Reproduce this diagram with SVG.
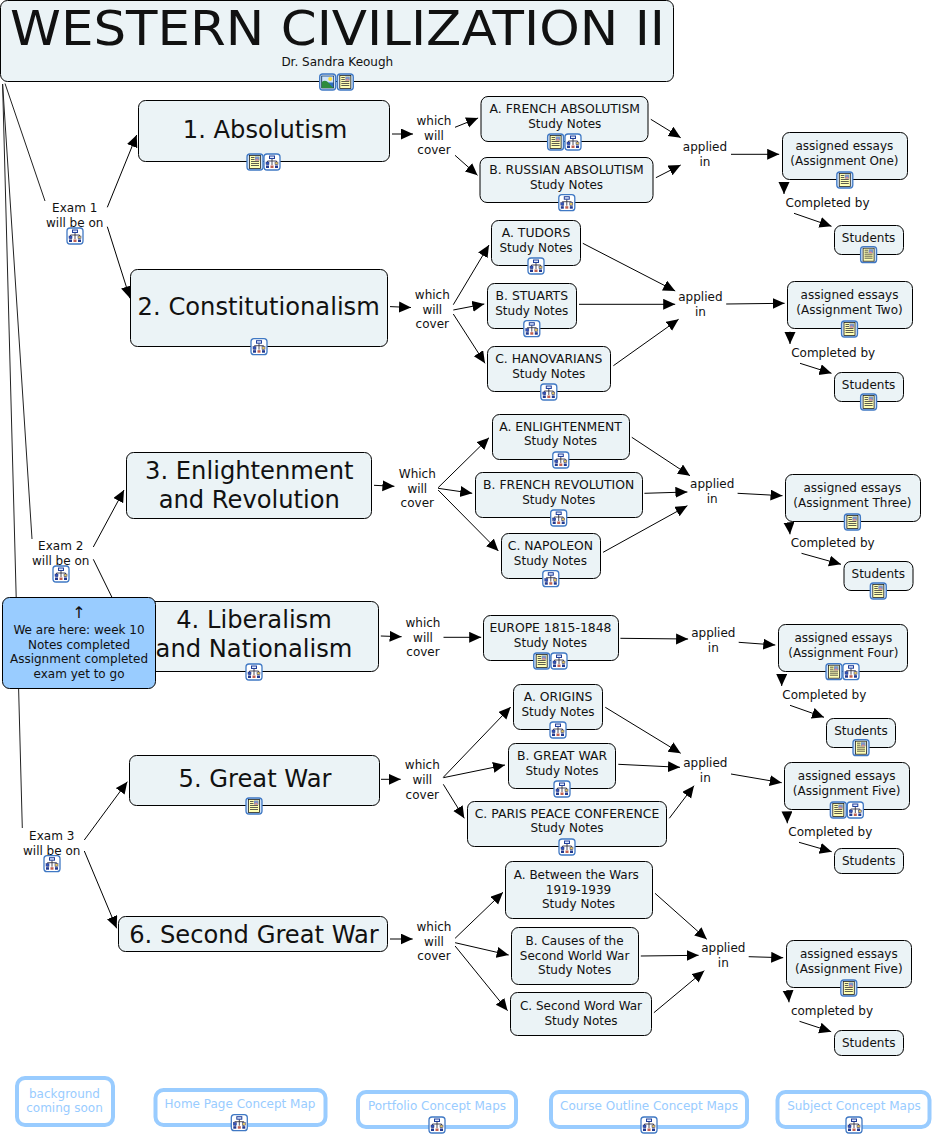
<svg xmlns="http://www.w3.org/2000/svg" width="933" height="1137" viewBox="0 0 933 1137">
<style>
text{font-family:"DejaVu Sans",Verdana,sans-serif;font-size:12px;fill:#111;text-anchor:middle}
.n{fill:#ebf3f6;stroke:#000;stroke-width:1}
text.c{font-size:12.4px}
text.big{font-size:24.2px}
text.title{font-size:48px}
text.up{font-size:16px}
.blue{fill:#99ccff;stroke:#000;stroke-width:1}
.link{fill:#fff;stroke:#99ccff;stroke-width:4}
text.lt{fill:#99ccff}
#connectors line{stroke:#000;stroke-width:1;marker-end:url(#ah)}
#connectors line.p{marker-end:none;stroke:#222}
.fr{stroke:#3f78c4;stroke-width:1.3}
</style>
<defs>
<marker id="ah" markerUnits="userSpaceOnUse" markerWidth="13" markerHeight="12" refX="12" refY="5.500" orient="auto"><path d="M0,0L12,5.500L0,11z" fill="#000"/></marker>
<g id="map"><rect x="-8" y="-8" width="16" height="16" rx="3" fill="#fff" class="fr"/><path d="M0,-3.500V-1M-4.500,0V-1H4.500V0M0,-1V3M-4,2V3M4,2V3" fill="none" stroke="#223" stroke-width=".8"/><rect x="-2.500" y="-6" width="5" height="2.500" fill="#dfe9ff" stroke="#22409a"/><rect x="-6" y="0" width="3" height="2.500" fill="#3355bb" stroke="#22307a" stroke-width=".5"/><rect x="3" y="0" width="3" height="2.500" fill="#e8c860" stroke="#22307a" stroke-width=".5"/><rect x="-6" y="3.500" width="3" height="2.500" fill="#223a90"/><rect x="-1.500" y="3.500" width="3" height="2.500" fill="#c06050"/><rect x="3" y="3.500" width="3" height="2.500" fill="#223a90"/></g>
<g id="note"><rect x="-8" y="-8" width="16" height="16" rx="3" fill="#cfe2f8" class="fr"/><rect x="-5.500" y="-6.500" width="11" height="13" fill="#ffffb4" stroke="#222" stroke-width=".8"/><path d="M-4,-4.500H-.5M-4,-2.500H-.5M-4,-.5H4M-4,1.500H4M-4,3.500H4" stroke="#333" stroke-width=".8"/><rect x="0" y="-5.500" width="4.500" height="4" fill="#7a94c8"/><path d="M0,-1.500L2,-3.500L4.500,-1.500z" fill="#d88"/></g>
<g id="img"><rect x="-8" y="-8" width="16" height="16" rx="3" fill="#cfe2f8" class="fr"/><rect x="-6" y="-6" width="12" height="12" fill="#2f6fc0" stroke="#123" stroke-width=".6"/><rect x="-5.500" y="-5.500" width="11" height="6" fill="#cfe4f8"/><circle cx="2.500" cy="-3" r="2" fill="#ffe040"/><path d="M-6,6V0Q-2,-3 1,1T6,6z" fill="#2e8b3c"/></g>
</defs>
<rect width="933" height="1137" fill="#fff"/>
<g id="connectors">
<line class="p" x1="5" y1="83.500" x2="45" y2="201"/>
<line class="p" x1="2.600" y1="84" x2="32" y2="539"/>
<line class="p" x1="2.600" y1="84" x2="22.300" y2="828"/>
<line x1="107.300" y1="207.300" x2="136.700" y2="135"/>
<line x1="107.300" y1="226.700" x2="130" y2="298.300"/>
<line x1="93.300" y1="547" x2="124" y2="490"/>
<line x1="93.300" y1="559.300" x2="128" y2="630"/>
<line x1="84.300" y1="840" x2="127.300" y2="781.700"/>
<line x1="84.300" y1="851" x2="116.700" y2="928.300"/>
<line x1="392" y1="134" x2="413" y2="134"/>
<line x1="455" y1="127.300" x2="478.100" y2="118"/>
<line x1="455" y1="155.300" x2="477.500" y2="175.300"/>
<line x1="650.800" y1="119.300" x2="680.700" y2="137.700"/>
<line x1="655.900" y1="177.700" x2="680.700" y2="165"/>
<line x1="731" y1="154.300" x2="779.200" y2="154.300"/>
<line x1="784" y1="183" x2="784" y2="194"/>
<line x1="794" y1="213.300" x2="831.500" y2="226.300"/>
<line x1="390" y1="306.600" x2="411" y2="307.500"/>
<line x1="453.300" y1="304.700" x2="489" y2="245"/>
<line x1="453.300" y1="310" x2="484.300" y2="304"/>
<line x1="453.300" y1="314" x2="485" y2="363.300"/>
<line x1="582.800" y1="243.300" x2="675.200" y2="291"/>
<line x1="579" y1="304.300" x2="675.200" y2="304.300"/>
<line x1="613.400" y1="365.700" x2="678.600" y2="319.300"/>
<line x1="726.200" y1="304" x2="784.600" y2="303.300"/>
<line x1="790" y1="331.700" x2="790" y2="344"/>
<line x1="800" y1="363.300" x2="831.500" y2="373.300"/>
<line x1="374" y1="485.300" x2="394.400" y2="486.300"/>
<line x1="438.100" y1="487.700" x2="489" y2="437.700"/>
<line x1="438.100" y1="488.300" x2="472.200" y2="493.300"/>
<line x1="438.100" y1="490" x2="498.400" y2="551"/>
<line x1="631.800" y1="437.300" x2="690" y2="475.700"/>
<line x1="644.400" y1="493.300" x2="687.400" y2="492"/>
<line x1="603.100" y1="552.300" x2="687.400" y2="505.700"/>
<line x1="737.600" y1="493.300" x2="782.500" y2="495.700"/>
<line x1="789" y1="523" x2="790" y2="534.300"/>
<line x1="801.500" y1="553.300" x2="841" y2="564.300"/>
<line x1="380.800" y1="636" x2="401.600" y2="636.700"/>
<line x1="443.500" y1="637.300" x2="481.200" y2="637.300"/>
<line x1="620.400" y1="638.300" x2="688.100" y2="639"/>
<line x1="738.700" y1="642.300" x2="775.300" y2="645"/>
<line x1="781.700" y1="675" x2="781.700" y2="686"/>
<line x1="790" y1="705.300" x2="824" y2="717.300"/>
<line x1="381" y1="779.300" x2="400.700" y2="779.300"/>
<line x1="443.300" y1="777.300" x2="510.700" y2="707"/>
<line x1="443.300" y1="777.700" x2="505" y2="765"/>
<line x1="443.300" y1="784.300" x2="464.300" y2="818.300"/>
<line x1="605.300" y1="707.300" x2="680.700" y2="753.300"/>
<line x1="618.300" y1="764.300" x2="680" y2="767.300"/>
<line x1="669.300" y1="818.300" x2="694" y2="785.700"/>
<line x1="731" y1="774" x2="781.700" y2="782.700"/>
<line x1="787" y1="812" x2="787.300" y2="823.300"/>
<line x1="799" y1="842.300" x2="831.700" y2="851.700"/>
<line x1="390" y1="939" x2="412.700" y2="939"/>
<line x1="455.100" y1="938.300" x2="503" y2="892.300"/>
<line x1="455.100" y1="942.700" x2="508.700" y2="955"/>
<line x1="455.100" y1="946" x2="507.600" y2="1010.700"/>
<line x1="655" y1="893.300" x2="706.800" y2="939.300"/>
<line x1="640.800" y1="956" x2="698.600" y2="955.300"/>
<line x1="653.900" y1="1012.700" x2="704.300" y2="970.700"/>
<line x1="748.700" y1="956.700" x2="783.200" y2="957.700"/>
<line x1="788" y1="990" x2="789" y2="1002.300"/>
<line x1="799.500" y1="1021.300" x2="831.200" y2="1031.700"/>
</g>
<g id="n-title"><rect class="n" x="0.500" y="0.500" width="673" height="81" rx="7"/><text class="title" x="337.500" y="45" textLength="655" lengthAdjust="spacingAndGlyphs">WESTERN CIVILIZATION II</text><text x="337.300" y="66.300">Dr. Sandra Keough</text><use href="#img" x="327.700" y="82"/><use href="#note" x="345.300" y="82"/></g>
<g id="n-abs"><rect class="n" x="138.500" y="100.500" width="251" height="61" rx="7"/><text class="big" x="265" y="138.300">1. Absolutism</text><use href="#note" x="255" y="162"/><use href="#map" x="272" y="162"/></g>
<g id="n-const"><rect class="n" x="130.500" y="269.500" width="257" height="77" rx="7"/><text class="big" x="258.700" y="315">2. Constitutionalism</text><use href="#map" x="259" y="346.700"/></g>
<g id="n-enl"><rect class="n" x="126.500" y="452.500" width="245" height="66" rx="7"/><text class="big" x="249.300" y="479.300">3. Enlightenment</text><text class="big" x="249.300" y="508.300">and Revolution</text></g>
<g id="n-lib"><rect class="n" x="128.500" y="601.500" width="250" height="70" rx="7"/><text class="big" x="254" y="627.700">4. Liberalism</text><text class="big" x="254" y="656.700">and Nationalism</text><use href="#map" x="254" y="672"/></g>
<g id="n-gw"><rect class="n" x="129.500" y="755.500" width="250" height="50" rx="7"/><text class="big" x="255" y="786.700">5. Great War</text><use href="#note" x="254" y="806"/></g>
<g id="n-sgw"><rect class="n" x="118.500" y="916.500" width="269" height="35" rx="7"/><text class="big" x="254" y="942.700">6. Second Great War</text></g>
<g id="l-exam1"><text x="74.700" y="212">Exam 1</text><text x="74.700" y="226.600">will be on</text><use href="#map" x="75" y="236"/></g>
<g id="l-exam2"><text x="60.700" y="550">Exam 2</text><text x="60.700" y="564.600">will be on</text><use href="#map" x="61" y="574"/></g>
<g id="l-exam3"><text x="51.700" y="840">Exam 3</text><text x="51.700" y="854.600">will be on</text><use href="#map" x="52" y="863.700"/></g>
<g id="l-which1"><text x="434" y="125.300">which</text><text x="434" y="140">will</text><text x="434" y="154.300">cover</text></g>
<g id="l-which2"><text x="432.300" y="299">which</text><text x="432.300" y="313.600">will</text><text x="432.300" y="328.300">cover</text></g>
<g id="l-which3"><text x="417.300" y="478.300">Which</text><text x="417.300" y="493">will</text><text x="417.300" y="507.300">cover</text></g>
<g id="l-which4"><text x="423" y="627.300">which</text><text x="423" y="642">will</text><text x="423" y="656.300">cover</text></g>
<g id="l-which5"><text x="422.300" y="769.300">which</text><text x="422.300" y="784.300">will</text><text x="422.300" y="798.600">cover</text></g>
<g id="l-which6"><text x="434" y="931.300">which</text><text x="434" y="946">will</text><text x="434" y="960.300">cover</text></g>
<g id="n-french"><rect class="n" x="481" y="96.500" width="167" height="45" rx="7"/><text class="c" x="564.800" y="113">A. FRENCH ABSOLUTISM</text><text x="564.800" y="127.600">Study Notes</text><use href="#note" x="555.600" y="142"/><use href="#map" x="573" y="142"/></g>
<g id="n-russian"><rect class="n" x="480" y="157.500" width="173" height="45" rx="7"/><text class="c" x="566.500" y="174">B. RUSSIAN ABSOLUTISM</text><text x="566.500" y="188.600">Study Notes</text><use href="#map" x="566.800" y="202.700"/></g>
<g id="n-tudors"><rect class="n" x="491.500" y="220.500" width="89" height="45" rx="7"/><text class="c" x="536" y="237">A. TUDORS</text><text x="536" y="251.600">Study Notes</text><use href="#map" x="536" y="266"/></g>
<g id="n-stuarts"><rect class="n" x="487.500" y="283.500" width="89" height="45" rx="7"/><text class="c" x="531.800" y="300">B. STUARTS</text><text x="531.800" y="314.600">Study Notes</text><use href="#map" x="531.800" y="328.700"/></g>
<g id="n-hanov"><rect class="n" x="487.500" y="346.500" width="123" height="45" rx="7"/><text class="c" x="548.800" y="363">C. HANOVARIANS</text><text x="548.800" y="377.600">Study Notes</text><use href="#map" x="548.800" y="392"/></g>
<g id="n-enlA"><rect class="n" x="492.500" y="414.500" width="137" height="45" rx="7"/><text class="c" x="560.500" y="431">A. ENLIGHTENMENT</text><text x="560.500" y="445.300">Study Notes</text><use href="#map" x="560.800" y="460"/></g>
<g id="n-frrev"><rect class="n" x="475.500" y="472.500" width="167" height="45" rx="7"/><text class="c" x="558.700" y="489">B. FRENCH REVOLUTION</text><text x="558.700" y="503.600">Study Notes</text><use href="#map" x="558.700" y="518"/></g>
<g id="n-nap"><rect class="n" x="501.500" y="533.500" width="99" height="45" rx="7"/><text class="c" x="550.400" y="550.300">C. NAPOLEON</text><text x="550.400" y="565">Study Notes</text><use href="#map" x="550.800" y="578.700"/></g>
<g id="n-europe"><rect class="n" x="483.500" y="615.500" width="135" height="45" rx="7"/><text class="c" x="550.400" y="632">EUROPE 1815-1848</text><text x="550.400" y="646.600">Study Notes</text><use href="#note" x="541.700" y="661"/><use href="#map" x="559" y="661"/></g>
<g id="n-orig"><rect class="n" x="513.500" y="684.500" width="89" height="45" rx="7"/><text class="c" x="558" y="701">A. ORIGINS</text><text x="558" y="715.600">Study Notes</text><use href="#map" x="558" y="730"/></g>
<g id="n-gwB"><rect class="n" x="508.500" y="743.500" width="107" height="45" rx="7"/><text class="c" x="562" y="760">B. GREAT WAR</text><text x="562" y="774.600">Study Notes</text><use href="#map" x="562" y="789"/></g>
<g id="n-paris"><rect class="n" x="467.500" y="801.500" width="199" height="45" rx="7"/><text class="c" x="567" y="817.600">C. PARIS PEACE CONFERENCE</text><text x="567" y="832.300">Study Notes</text><use href="#map" x="567" y="847"/></g>
<g id="n-between"><rect class="n" x="505.500" y="861.500" width="147" height="57" rx="7"/><text x="576.300" y="879.300">A. Between the Wars</text><text x="578.500" y="894">1919-1939</text><text x="578.500" y="908.300">Study Notes</text></g>
<g id="n-causes"><rect class="n" x="511.500" y="927.500" width="127" height="57" rx="7"/><text x="574.600" y="945.300">B. Causes of the</text><text x="574.600" y="959.600">Second World War</text><text x="574.600" y="974.300">Study Notes</text></g>
<g id="n-second"><rect class="n" x="510.500" y="992.500" width="141" height="43" rx="7"/><text x="581" y="1010">C. Second Word War</text><text x="581" y="1024.600">Study Notes</text></g>
<g id="l-app1"><text x="705" y="151.300">applied</text><text x="705" y="166">in</text></g>
<g id="l-app2"><text x="700.400" y="301.300">applied</text><text x="700.400" y="316">in</text></g>
<g id="l-app3"><text x="712.200" y="488.300">applied</text><text x="712.200" y="503">in</text></g>
<g id="l-app4"><text x="713.300" y="637.300">applied</text><text x="713.300" y="652">in</text></g>
<g id="l-app5"><text x="705.300" y="767.300">applied</text><text x="705.300" y="782">in</text></g>
<g id="l-app6"><text x="723.300" y="952.300">applied</text><text x="723.300" y="967">in</text></g>
<g id="n-ass1"><rect class="n" x="782.500" y="132.500" width="125" height="47" rx="7"/><text x="844.400" y="150.300">assigned essays</text><text x="844.400" y="164.600">(Assignment One)</text><use href="#note" x="844.800" y="180"/></g>
<g id="n-ass2"><rect class="n" x="787.500" y="281.500" width="125" height="47" rx="7"/><text x="849.500" y="299.300">assigned essays</text><text x="849.500" y="314">(Assignment Two)</text><use href="#note" x="849.500" y="329"/></g>
<g id="n-ass3"><rect class="n" x="785.500" y="474.500" width="135" height="47" rx="7"/><text x="852.400" y="492.300">assigned essays</text><text x="852.400" y="507">(Assignment Three)</text><use href="#note" x="852.400" y="522"/></g>
<g id="n-ass4"><rect class="n" x="778.500" y="624.500" width="129" height="47" rx="7"/><text x="843.300" y="642.300">assigned essays</text><text x="843.300" y="657">(Assignment Four)</text><use href="#note" x="834" y="671.700"/><use href="#map" x="851" y="671.700"/></g>
<g id="n-ass5"><rect class="n" x="784.500" y="762.500" width="125" height="47" rx="7"/><text x="846.700" y="780.300">assigned essays</text><text x="846.700" y="795">(Assignment Five)</text><use href="#note" x="838.300" y="810"/><use href="#map" x="855.300" y="810"/></g>
<g id="n-ass6"><rect class="n" x="786.500" y="940.500" width="125" height="47" rx="7"/><text x="848.800" y="958.300">assigned essays</text><text x="848.800" y="973">(Assignment Five)</text><use href="#note" x="848.800" y="988"/></g>
<g id="l-comp1"><text x="827.500" y="207.300">Completed by</text></g>
<g id="l-comp2"><text x="833.200" y="357.300">Completed by</text></g>
<g id="l-comp3"><text x="832.700" y="547.300">Completed by</text></g>
<g id="l-comp4"><text x="824.300" y="699.300">Completed by</text></g>
<g id="l-comp5"><text x="830.300" y="836">Completed by</text></g>
<g id="l-comp6"><text x="832" y="1015.300">completed by</text></g>
<g id="n-st1"><rect class="n" x="834.500" y="225.500" width="69" height="29" rx="7"/><text x="868.600" y="242">Students</text><use href="#note" x="868.600" y="254.700"/></g>
<g id="n-st2"><rect class="n" x="834.500" y="372.500" width="69" height="29" rx="7"/><text x="868.600" y="389.300">Students</text><use href="#note" x="868.600" y="402"/></g>
<g id="n-st3"><rect class="n" x="844" y="561.500" width="69" height="29" rx="7"/><text x="878.300" y="578.300">Students</text><use href="#note" x="878.300" y="591"/></g>
<g id="n-st4"><rect class="n" x="826.500" y="718.500" width="69" height="29" rx="7"/><text x="861" y="735">Students</text><use href="#note" x="861" y="747.700"/></g>
<g id="n-st5"><rect class="n" x="834.500" y="848.500" width="69" height="25" rx="7"/><text x="868.700" y="865.300">Students</text></g>
<g id="n-st6"><rect class="n" x="834.500" y="1030.500" width="69" height="25" rx="7"/><text x="868.700" y="1047">Students</text></g>
<g id="n-here"><rect class="blue" x="2.500" y="597.500" width="153" height="91" rx="7"/><text class="up" x="79" y="618">↑</text><text x="79" y="634.300">We are here: week 10</text><text x="79" y="649">Notes completed</text><text x="79" y="663.300">Assignment completed</text><text x="79" y="678.300">exam yet to go</text></g>
<g id="n-bg"><rect class="link" x="17" y="1078" width="96" height="47" rx="8"/><text class="lt" x="64.500" y="1097.600">background</text><text class="lt" x="64.500" y="1112.300">coming soon</text></g>
<g id="n-home"><rect class="link" x="155.500" y="1090" width="170" height="35" rx="8"/><text class="lt" x="240" y="1108">Home Page Concept Map</text><use href="#map" x="239.300" y="1122.700"/></g>
<g id="n-port"><rect class="link" x="358" y="1092" width="158" height="35" rx="8"/><text class="lt" x="437" y="1110">Portfolio Concept Maps</text><use href="#map" x="437" y="1125"/></g>
<g id="n-course"><rect class="link" x="551" y="1092" width="196" height="35" rx="8"/><text class="lt" x="649" y="1110">Course Outline Concept Maps</text><use href="#map" x="649" y="1125"/></g>
<g id="n-subj"><rect class="link" x="777.500" y="1092" width="152" height="35" rx="8"/><text class="lt" x="854" y="1110">Subject Concept Maps</text><use href="#map" x="854" y="1125"/></g>
</svg>
